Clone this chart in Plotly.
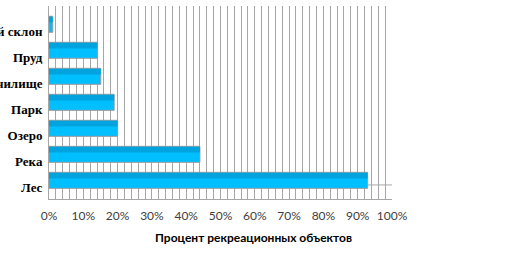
import plotly.graph_objects as go

categories = ["Лес", "Река", "Озеро", "Парк", "Водохранилище", "Пруд", "Горнолыжный склон"]
values = [0.929, 0.44, 0.20, 0.19, 0.151, 0.141, 0.011]
x_ticks = [i / 10 for i in range(11)]
x_tick_labels = [f"{i*10}%" for i in range(11)]
x_title = "Процент рекреационных объектов"

pos = list(range(len(categories)))

fig = go.Figure()
fig.add_trace(go.Bar(
    y=pos, x=values, orientation="h",
    width=0.615, offset=-0.05,
    marker=dict(color="#00BFFF", line=dict(color="#9a9a9a", width=1)),
    hoverinfo="skip", showlegend=False,
))
fig.add_trace(go.Bar(
    y=pos, x=values, orientation="h",
    width=0.22, offset=0.33,
    marker=dict(color="#00A3DE", line=dict(width=0)),
    hoverinfo="skip", showlegend=False,
))

fig.add_shape(type="line", xref="x", yref="y", x0=0, x1=1, y0=0.08, y1=0.08,
              line=dict(color="#a6a6a6", width=1), layer="below")

fig.update_layout(
    width=505, height=266,
    margin=dict(l=49, r=113, t=6, b=67),
    paper_bgcolor="white", plot_bgcolor="white",
    barmode="overlay",
    xaxis=dict(
        range=[0, 1], tickvals=x_ticks, ticktext=x_tick_labels,
        showgrid=True, gridcolor="#a6a6a6", gridwidth=1,
        minor=dict(dtick=0.02, showgrid=True, gridcolor="#a6a6a6", gridwidth=1),
        showline=True, linecolor="#a6a6a6", linewidth=1,
        ticks="outside", ticklen=6, tickcolor="rgba(0,0,0,0)",
        tickfont=dict(family="Lato", size=12, color="#404040"),
        zeroline=False, fixedrange=True,
    ),
    yaxis=dict(
        range=[-0.46, 6.96], tickvals=pos, ticktext=categories,
        showgrid=False, zeroline=False,
        showline=True, linecolor="#a6a6a6", linewidth=1,
        ticks="outside", ticklen=3, tickcolor="rgba(0,0,0,0)",
        tickfont=dict(family="Liberation Serif", size=13, color="black"),
        automargin=False,
    ),
    annotations=[dict(
        text=f"<b>{x_title}</b>", xref="paper", yref="paper",
        x=0.595, y=-0.202, xanchor="center", yanchor="middle",
        showarrow=False, font=dict(family="Lato", size=12, color="black"),
    )],
)
fig.update_yaxes(tickfont=dict(family="Liberation Serif", size=13, color="black"))
fig.update_layout(yaxis_tickfont_weight="bold")
fig.write_html("out.html")
